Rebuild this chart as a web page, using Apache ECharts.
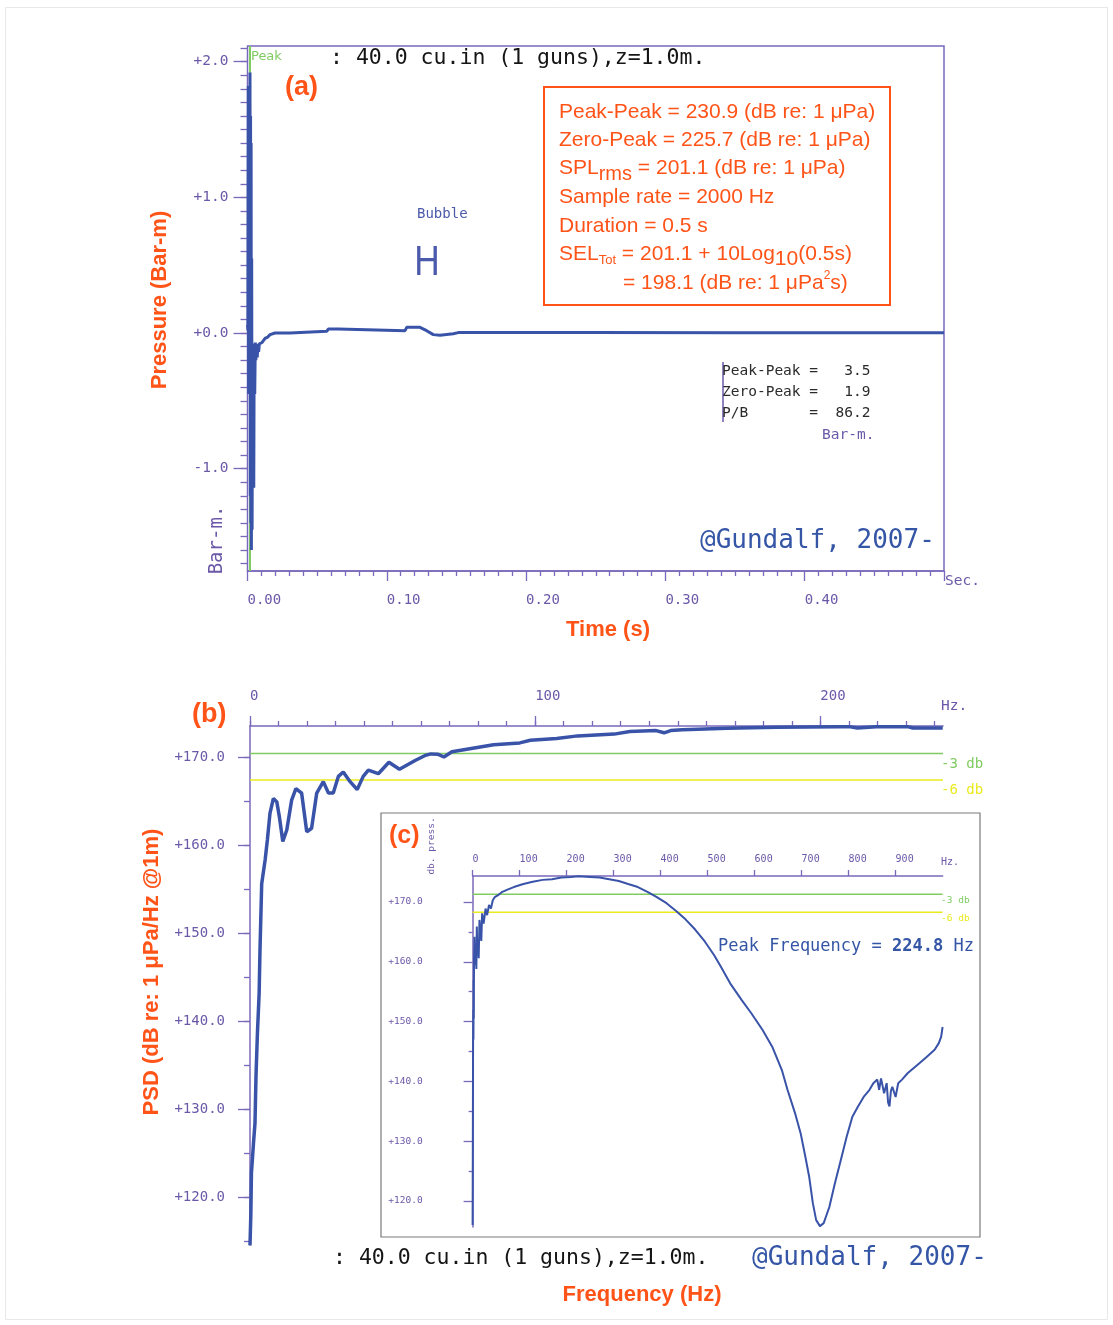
<!DOCTYPE html>
<html>
<head>
<meta charset="utf-8">
<script src="https://cdn.jsdelivr.net/npm/echarts@6/dist/echarts.min.js"></script>
<style>
  html, body { margin: 0; padding: 0; background: #fff; }
  #chart { width: 1113px; height: 1325px; }
</style>
</head>
<body>
<div id="chart"></div>
<script>
// ---- (a) airgun pressure signature, Bar-m vs seconds ----
const timeSec = [0, 0.0003, 0.0006, 0.0008, 0.0010, 0.0012, 0.0014, 0.0016, 0.0018, 0.0020,
  0.0022, 0.0024, 0.0026, 0.0028, 0.0030, 0.0033, 0.0036, 0.0039, 0.0042, 0.0045,
  0.0048, 0.0052, 0.0056, 0.0060, 0.0065, 0.0070, 0.0075, 0.0080, 0.0085, 0.0090,
  0.0105, 0.0126, 0.0145, 0.0162, 0.0197, 0.0305, 0.0317, 0.0569, 0.0580, 0.0652,
  0.0664, 0.1131, 0.1143, 0.1238, 0.1286, 0.1334, 0.1382, 0.1477, 0.1513, 0.2500,
  0.3500, 0.5000];
const pressureBarM = [0.06, 0.02, 1.82, -0.45, 1.80, -0.40, 1.78, -0.30, 1.92, -1.20,
  1.60, -1.40, 1.40, -1.60, 0.55, -1.45, -0.20, -1.10, -0.35, -1.14,
  -0.08, -0.45, -0.07, -0.20, -0.08, -0.18, -0.08, -0.14, -0.08, -0.09,
  -0.07, -0.04, -0.03, -0.012, 0.0, 0.0, 0.012, 0.012, 0.03, 0.03,
  0.017, 0.017, 0.042, 0.042, 0.017, -0.012, -0.017, -0.005, 0.003, 0.003,
  0.002, 0.002];
const peakTimeSec = 0.0018;

// ---- (b) power spectral density, 0-243 Hz ----
const psdFreqHz = [0, 0.3, 0.5, 0.9, 1.2, 1.75, 2.1, 2.6, 3.2, 3.5,
  4.1, 5.3, 6.1, 7.0, 8.2, 9.4, 10.3, 11.5, 12.9, 14.6,
  16.1, 18.1, 19.9, 21.6, 23.4, 25.7, 27.5, 29.2, 31.0, 32.7,
  35.1, 37.6, 39.7, 41.5, 45.0, 48.7, 52.4, 57.9, 61.6, 63.4,
  66.0, 68.0, 70.8, 78.1, 85.4, 94.6, 98.3, 107.5, 114.9, 127.7,
  133.2, 142.4, 145.2, 147.5, 151.6, 167.3, 184.7, 206.7, 210.0, 213.0,
  219.6, 230.6, 232.4, 242.9];
const psdDb = [114.5, 118.1, 122.7, 122.9, 126.0, 128.4, 133.7, 138.6, 143.1, 148.0,
  155.6, 158.3, 160.6, 163.6, 165.3, 164.9, 163.2, 160.4, 161.7, 165.1,
  166.4, 165.9, 161.5, 161.9, 165.9, 167.2, 165.9, 165.9, 167.8, 168.3,
  167.2, 166.3, 167.8, 168.5, 168.1, 169.4, 168.6, 169.6, 170.2, 170.35,
  170.3, 170.0, 170.6, 171.0, 171.4, 171.6, 171.9, 172.1, 172.4, 172.6,
  172.9, 173.0, 172.75, 173.0, 173.1, 173.28, 173.38, 173.45, 173.45, 173.3,
  173.45, 173.45, 173.3, 173.3];
const psdPeakDb = 173.4;

// ---- (c) full-band spectrum, 0-1000 Hz ----
const specFreqHz = [0, 0.4, 0.8, 1.0, 1.4, 1.8, 2.2, 2.6, 3.0, 4.0,
  5.0, 6.5, 8.0, 9.0, 10.0, 11.4, 13.0, 14.6, 17.0, 18.5,
  20.3, 23.5, 27.6, 30.9, 34.9, 39.0, 43.0, 47.0, 55.2, 63.3,
  75.5, 87.7, 108, 128, 149, 169, 189, 209.5, 224.8, 250,
  270, 290.7, 311, 331, 351.7, 372, 392, 412.6, 433, 453,
  473.5, 494, 514, 528, 548, 572.6, 593, 617, 637.5, 658,
  670, 686, 698, 708, 716, 724, 731, 739, 747, 759,
  771, 783.6, 796, 808, 820, 832, 844.5, 852.6, 861, 865,
  869, 875.5, 881, 884, 887, 890, 893, 900, 905.5, 913.6,
  926, 938, 950, 966, 983, 992, 997, 1000];
const specDb = [116.0, 126.3, 126.6, 146.5, 152.0, 147.0, 157.0, 150.5, 160.3, 164.2,
  159.5, 162.0, 158.8, 165.9, 161.5, 163.1, 160.6, 167.0, 164.8, 163.5,
  168.1, 166.4, 168.9, 167.8, 169.5, 168.9, 170.3, 170.8, 171.2, 171.7,
  172.1, 172.5, 173.0, 173.4, 173.7, 173.8, 174.1, 174.2, 174.3, 174.2,
  174.1, 173.8, 173.5, 173.0, 172.5, 171.7, 170.8, 169.8, 168.5, 167.1,
  165.4, 163.4, 161.1, 159.2, 156.4, 153.6, 151.4, 148.6, 145.8, 141.9,
  138.6, 134.7, 131.3, 127.4, 124.1, 119.6, 116.8, 115.8, 116.3, 119.0,
  123.0, 126.9, 130.8, 134.1, 135.8, 137.4, 138.6, 139.7, 140.3, 138.6,
  140.5, 138.0, 139.7, 136.5, 135.8, 138.4, 139.1, 137.4, 139.7, 140.3,
  141.4, 142.2, 143.0, 144.1, 145.3, 146.4, 147.5, 149.1];
const specPeakDb = 174.3;

// ---- styling ----
const PURPLE = '#6b58a8';
const AXIS = '#7a68ba';
const BLUE = '#3953a8';
const ORANGE = '#ff5318';
const GREEN = '#80cc62';
const YELLOW = '#eaea1e';
const MONO = '"DejaVu Sans Mono", monospace';
const SANS = '"Liberation Sans", Arial, sans-serif';

const zip = (xs, ys) => xs.map((x, i) => [x, ys[i]]);
const signed = v => (v >= 0 ? '+' : '') + v.toFixed(1);

// grid box for a value range, from a reference pixel row and pixel-per-unit scale
function vGrid(left, width, refY, refV, pxPerUnit, lo, hi) {
  return { left, width, top: refY - (hi - refV) * pxPerUnit, height: (hi - lo) * pxPerUnit };
}

// panel (a) geometry
const A = { left: 247.5, width: 696.5, top: 46, bottom: 571, zeroY: 333, px: 135.67 };
const aHi = (A.zeroY - A.top) / A.px;
const aLo = -(A.bottom - A.zeroY) / A.px;
// panel (b) geometry
const B = { left: 250, width: 693, top: 726, bottom: 1245, refY: 757, refV: 170, px: 8.8, xMax: 243 };
const bHi = B.refV + (B.refY - B.top) / B.px;
const bLo = B.refV - (B.bottom - B.refY) / B.px;
const bPxHz = B.width / B.xMax;
// panel (c) geometry
const C = { left: 472.6, width: 470, top: 876, bottom: 1227, refY: 902, refV: 170, px: 5.98, xMax: 1000 };
const cHi = C.refV + (C.refY - C.top) / C.px;
const cLo = C.refV - (C.bottom - C.refY) / C.px;

const hiddenX = g => ({ type: 'value', gridIndex: g, show: false, min: 0, max: 1 });
const tickStyle = { color: AXIS, width: 1.3 };
const axisLineOn = { show: true, onZero: false, lineStyle: { color: AXIS, width: 1.5 } };
const axisLineOff = { show: false, onZero: false };
const noSplit = { show: false };

const grids = [
  { left: A.left, top: A.top, width: A.width, height: A.bottom - A.top, show: true, borderColor: AXIS, borderWidth: 1.5 },
  vGrid(A.left, A.width, A.zeroY, 0, A.px, -1, 2),
  vGrid(A.left, A.width, A.zeroY, 0, A.px, -1.7, 2.1),
  { left: B.left, top: B.top, width: B.width, height: B.bottom - B.top },
  vGrid(B.left, 200 * bPxHz, B.refY, B.refV, B.px, 120, 170),
  vGrid(B.left, 240 * bPxHz, B.refY, B.refV, B.px, 115, 170),
  { left: C.left, top: C.top, width: C.width, height: C.bottom - C.top },
  vGrid(C.left, C.width, C.refY, C.refV, C.px, 120, 170)
];
const bOffset = grids[4].top - B.top;

const xAxes = [
  { type: 'value', gridIndex: 0, position: 'bottom', min: 0, max: 0.5, interval: 0.1,
    axisLine: axisLineOn,
    axisTick: { show: true, length: 10, lineStyle: tickStyle },
    minorTick: { show: true, splitNumber: 10, length: 5, lineStyle: tickStyle },
    axisLabel: { formatter: v => v.toFixed(2), showMaxLabel: false, align: 'left', margin: 22,
      color: PURPLE, fontFamily: MONO, fontSize: 14 },
    splitLine: noSplit, minorSplitLine: noSplit },
  hiddenX(1), hiddenX(2),
  { type: 'value', gridIndex: 3, position: 'top', min: 0, max: B.xMax,
    axisLine: axisLineOn, axisTick: { show: false },
    axisLabel: { show: false }, splitLine: noSplit },
  { type: 'value', gridIndex: 4, position: 'top', offset: bOffset, min: 0, max: 200, interval: 100,
    axisLine: axisLineOff, axisTick: { show: true, length: 10, lineStyle: tickStyle },
    axisLabel: { align: 'left', margin: 23, color: PURPLE, fontFamily: MONO, fontSize: 14 },
    splitLine: noSplit },
  { type: 'value', gridIndex: 5, position: 'top', offset: bOffset, min: 0, max: 240, interval: 10,
    axisLine: axisLineOff, axisTick: { show: true, length: 5, lineStyle: tickStyle },
    axisLabel: { show: false }, splitLine: noSplit },
  { type: 'value', gridIndex: 6, position: 'top', min: 0, max: C.xMax, interval: 100,
    axisLine: axisLineOn,
    axisTick: { show: true, length: 6, lineStyle: tickStyle },
    axisLabel: { showMaxLabel: false, align: 'left', margin: 12, color: PURPLE, fontFamily: MONO, fontSize: 10 },
    splitLine: noSplit },
  hiddenX(7)
];

const yAxes = [
  { type: 'value', gridIndex: 0, min: aLo, max: aHi, axisLine: axisLineOff,
    axisTick: { show: false }, axisLabel: { show: false }, splitLine: noSplit },
  { type: 'value', gridIndex: 1, min: -1, max: 2, interval: 1, axisLine: axisLineOff,
    axisTick: { show: true, length: 14, lineStyle: tickStyle },
    axisLabel: { formatter: signed, margin: 19, color: PURPLE, fontFamily: MONO, fontSize: 14.5 },
    splitLine: noSplit },
  { type: 'value', gridIndex: 2, min: -1.7, max: 2.1, interval: 0.1, axisLine: axisLineOff,
    axisTick: { show: true, length: 7, lineStyle: tickStyle }, axisLabel: { show: false }, splitLine: noSplit },
  { type: 'value', gridIndex: 3, min: bLo, max: bHi, axisLine: axisLineOn,
    axisTick: { show: false }, axisLabel: { show: false }, splitLine: noSplit },
  { type: 'value', gridIndex: 4, min: 120, max: 170, interval: 10, axisLine: axisLineOff,
    axisTick: { show: true, length: 12, lineStyle: tickStyle },
    axisLabel: { formatter: signed, margin: 25, color: PURPLE, fontFamily: MONO, fontSize: 14 },
    splitLine: noSplit },
  { type: 'value', gridIndex: 5, min: 115, max: 170, interval: 5, axisLine: axisLineOff,
    axisTick: { show: true, length: 6, lineStyle: tickStyle }, axisLabel: { show: false }, splitLine: noSplit },
  { type: 'value', gridIndex: 6, min: cLo, max: cHi, axisLine: axisLineOn,
    axisTick: { show: false }, axisLabel: { show: false }, splitLine: noSplit },
  { type: 'value', gridIndex: 7, min: 120, max: 170, interval: 10, axisLine: axisLineOff,
    axisTick: { show: true, length: 9, lineStyle: tickStyle },
    minorTick: { show: true, splitNumber: 2, length: 4, lineStyle: tickStyle },
    axisLabel: { formatter: signed, margin: 50, color: PURPLE, fontFamily: MONO, fontSize: 9.5 },
    splitLine: noSplit, minorSplitLine: noSplit }
];

function lineSeries(data, xi, color, width, z) {
  return { type: 'line', xAxisIndex: xi, yAxisIndex: xi, data, symbol: 'none', silent: true,
    z, lineStyle: { color, width }, itemStyle: { color } };
}

const series = [
  lineSeries([[peakTimeSec, aLo], [peakTimeSec, aHi]], 0, GREEN, 2, 1),
  lineSeries(zip(timeSec, pressureBarM), 0, BLUE, 3, 3),
  lineSeries([[0, psdPeakDb - 3], [B.xMax, psdPeakDb - 3]], 3, GREEN, 1.5, 1),
  lineSeries([[0, psdPeakDb - 6], [B.xMax, psdPeakDb - 6]], 3, YELLOW, 1.5, 1),
  lineSeries(zip(psdFreqHz, psdDb), 3, BLUE, 3.5, 3),
  lineSeries([[0, specPeakDb - 3], [C.xMax, specPeakDb - 3]], 6, GREEN, 1.5, 1),
  lineSeries([[0, specPeakDb - 6], [C.xMax, specPeakDb - 6]], 6, YELLOW, 1.5, 1),
  lineSeries(zip(specFreqHz, specDb), 6, BLUE, 2, 3)
];

// ---- annotation text ----
const measure = document.createElement('canvas').getContext('2d');
const fontStr = (size, family, weight) => (weight || 'normal') + ' ' + size + 'px ' + family;
function T(text, x, y, o) {
  o = o || {};
  return { type: 'text', x, y, rotation: o.rot || 0, scaleX: o.sx || 1, z: o.z == null ? 10 : o.z, silent: true,
    style: { text, fill: o.color || '#000', font: fontStr(o.size || 14, o.family || MONO, o.weight),
      align: o.align || 'left', verticalAlign: o.va || 'middle' } };
}
function runs(x, y, parts, base) {
  const out = [];
  let cx = x;
  parts.forEach(p => {
    const size = p.size || base.size;
    const weight = p.weight || base.weight;
    out.push(T(p.t, cx, y + (p.dy || 0), { size, family: base.family, weight, color: p.color || base.color }));
    measure.font = fontStr(size, base.family, weight);
    cx += measure.measureText(p.t).width;
  });
  return out;
}
const boxFont = { size: 21, family: SANS, color: ORANGE };
const ROT = Math.PI / 2;

const elements = [
  { type: 'rect', z: -2, silent: true, shape: { x: 5.5, y: 7.5, width: 1102, height: 1312 },
    style: { fill: 'none', stroke: '#e8e8e8', lineWidth: 1 } },
  { type: 'rect', z: -1, silent: true, shape: { x: 381, y: 813, width: 599, height: 424 },
    style: { fill: '#fff', stroke: '#7a7a7a', lineWidth: 1.2 } },
  { type: 'rect', z: 5, silent: true, shape: { x: 544, y: 87, width: 346, height: 218 },
    style: { fill: 'none', stroke: ORANGE, lineWidth: 2 } },
  { type: 'line', z: 5, silent: true, shape: { x1: 723, y1: 362, x2: 723, y2: 422 },
    style: { stroke: PURPLE, lineWidth: 1.5 } },

  // panel (a)
  T('Peak', 251, 57, { size: 13, family: '"DejaVu Sans", sans-serif', color: GREEN }),
  T(': 40.0 cu.in (1 guns),z=1.0m.', 330, 58, { size: 21.5, color: '#151515' }),
  T('(a)', 285, 88, { size: 27, family: SANS, weight: 'bold', color: ORANGE }),
  T('Bubble', 417, 214, { size: 14, color: '#4b5aab' }),
  T('H', 427, 263, { size: 43, family: SANS, color: '#4b5aab', align: 'center', sx: 0.82 }),
  T('Peak-Peak =   3.5', 722, 371, { size: 14.5, color: '#2b2b2b' }),
  T('Zero-Peak =   1.9', 722, 392, { size: 14.5, color: '#2b2b2b' }),
  T('P/B       =  86.2', 722, 413, { size: 14.5, color: '#2b2b2b' }),
  T('Bar-m.', 822, 435, { size: 14.5, color: PURPLE }),
  T('@Gundalf, 2007-', 700, 541, { size: 26, color: '#3556a6' }),
  T('Sec.', 945, 581, { size: 14.5, color: PURPLE }),
  T('Bar-m.', 217, 540, { size: 19, color: PURPLE, rot: ROT, align: 'center' }),
  T('Pressure (Bar-m)', 160, 300, { size: 22, family: SANS, weight: 'bold', color: ORANGE, rot: ROT, align: 'center' }),
  T('Time (s)', 608, 630, { size: 22, family: SANS, weight: 'bold', color: ORANGE, align: 'center' }),

  ...runs(559, 112, [{ t: 'Peak-Peak = 230.9 (dB re: 1 μPa)' }], boxFont),
  ...runs(559, 140, [{ t: 'Zero-Peak = 225.7 (dB re: 1 μPa)' }], boxFont),
  ...runs(559, 168, [{ t: 'SPL' }, { t: 'rms', size: 20, dy: 6 }, { t: ' = 201.1 (dB re: 1 μPa)' }], boxFont),
  ...runs(559, 197, [{ t: 'Sample rate = 2000 Hz' }], boxFont),
  ...runs(559, 226, [{ t: 'Duration = 0.5 s' }], boxFont),
  ...runs(559, 254, [{ t: 'SEL' }, { t: 'Tot', size: 13, dy: 6 }, { t: ' = 201.1 + 10Log' },
    { t: '10', dy: 5 }, { t: '(0.5s)' }], boxFont),
  ...runs(623, 283, [{ t: '= 198.1 (dB re: 1 μPa' }, { t: '2', size: 12, dy: -7 }, { t: 's)' }], boxFont),

  // panel (b)
  T('(b)', 192, 715, { size: 27, family: SANS, weight: 'bold', color: ORANGE }),
  T('Hz.', 941, 706, { size: 14.5, color: PURPLE }),
  T('-3 db', 941, 764, { size: 14, color: GREEN }),
  T('-6 db', 941, 790, { size: 14, color: YELLOW }),
  T('PSD (dB re: 1 μPa/Hz @1m)', 152, 972, { size: 22, family: SANS, weight: 'bold', color: ORANGE, rot: ROT, align: 'center' }),
  T(': 40.0 cu.in (1 guns),z=1.0m.', 333, 1258, { size: 21.5, color: '#151515' }),
  T('@Gundalf, 2007-', 752, 1258, { size: 26, color: '#3556a6' }),
  T('Frequency (Hz)', 642, 1295, { size: 22, family: SANS, weight: 'bold', color: ORANGE, align: 'center' }),

  // panel (c)
  T('(c)', 389, 836, { size: 25, family: SANS, weight: 'bold', color: ORANGE }),
  T('db. press.', 432, 846, { size: 9.5, color: PURPLE, rot: ROT, align: 'center' }),
  T('Hz.', 941, 862, { size: 10, color: PURPLE }),
  T('-3 db', 941, 901, { size: 9.5, color: GREEN }),
  T('-6 db', 941, 919, { size: 9.5, color: YELLOW }),
  ...runs(718, 947, [{ t: 'Peak Frequency = ' }, { t: '224.8', weight: 'bold' }, { t: ' Hz' }],
    { size: 17, family: MONO, color: '#3556a6' })
];

const chart = echarts.init(document.getElementById('chart'), null, { renderer: 'canvas' });
chart.setOption({
  backgroundColor: '#ffffff',
  animation: false,
  grid: grids,
  xAxis: xAxes,
  yAxis: yAxes,
  series,
  graphic: { elements }
});
</script>
</body>
</html>
